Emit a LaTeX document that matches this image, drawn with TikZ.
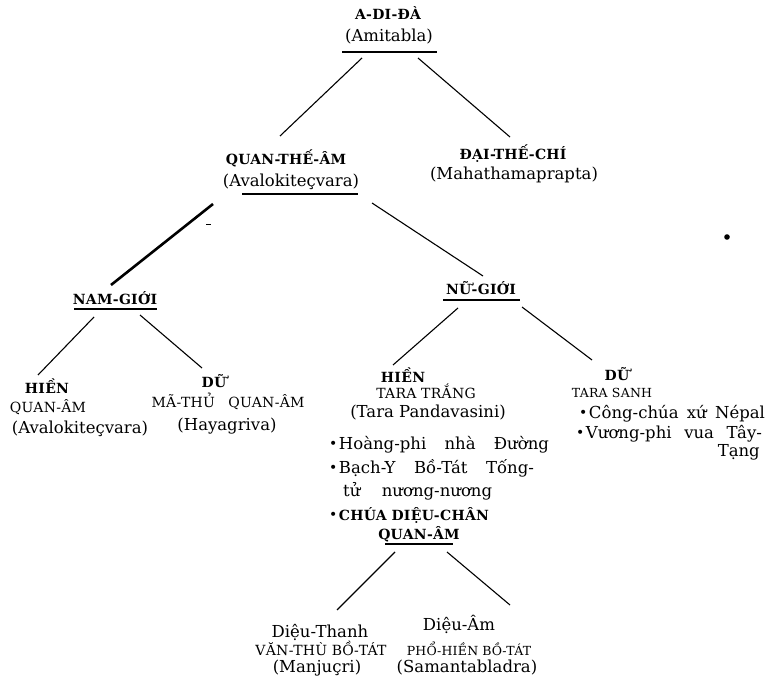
\documentclass[tikz,border=0pt]{standalone}
\usepackage{fontspec}
\setmainfont{DejaVu Serif}
\newfontfamily\capfam{DejaVu Serif}[LetterSpace=2]
\usetikzlibrary{calc}
\newcommand\mybul{\raisebox{0.5pt}{\fontsize{14}{14}\selectfont •}\hspace{1.5pt}}
\newcommand\capsb{\fontsize{14}{16}\selectfont\capfam\bfseries}
\begin{document}
\begin{tikzpicture}[x=1pt,y=-1pt,
  mt/.style={inner sep=0pt, anchor=base, font=\fontsize{16.5}{20}\selectfont},
  cb/.style={inner sep=0pt, anchor=base, font=\fontsize{14}{16}\selectfont\capfam\bfseries},
  cr/.style={inner sep=0pt, anchor=base, font=\fontsize{14}{16}\selectfont\capfam},
  bl/.style={inner sep=0pt, anchor=base west, font=\fontsize{16.5}{20}\selectfont},
  conn/.style={line width=1.1pt},
  thickconn/.style={line width=2.6pt},
  uline/.style={line width=1.4pt}]
\useasboundingbox (0,0) rectangle (768,684);

% --- root
\node[cb] (adida) at (388,20) {A-DI-ĐÀ};
\node[mt] (amit) at (389,41.5) {(Amitabla)};
\draw[uline] (342,52) -- (437,52);

% --- level 2
\node[cb] (qta) at (286,165) {QUAN-THẾ-ÂM};
\node[mt] (aval) at (291,186.5) {(Avalokiteçvara)};
\draw[uline] (242,194) -- (358,194);
\node[cb] (dtc) at (513,160) {ĐẠI-THẾ-CHÍ};
\node[mt] (maha) at (514,180) {(Mahathamaprapta)};

% --- level 3
\node[cb] (nam) at (115,305) {NAM-GIỚI};
\draw[uline] (74,309) -- (157,309);
\node[cb] (nu) at (481,295) {NỮ-GIỚI};
\draw[uline] (443,300) -- (520,300);

% --- left leaves
\node[cb] (hien1) at (47,393) {HIỀN};
\node[cr] (qa1) at (48,412) {QUAN-ÂM};
\node[mt] (aval2) at (80,433) {(Avalokiteçvara)};
\node[cb] (du1) at (214,387) {DỮ};
\node[cr] (mathu) at (228,407.5) {\makebox[153pt][s]{MÃ-THỦ QUAN-ÂM}};
\node[mt] (haya) at (227,430) {(Hayagriva)};

% --- centre leaf
\node[cb] (hien2) at (403,382) {HIỀN};
\node[cr] (tara) at (426,398) {TARA TRẮNG};
\node[mt] (tpand) at (428,417) {(Tara Pandavasini)};
\node[bl] (hoang) at (329,449) {\mybul\makebox[210pt][s]{Hoàng-phi nhà Đường}};
\node[bl] (bach) at (329,473) {\mybul\makebox[195pt][s]{Bạch-Y Bồ-Tát Tống-}};
\node[bl] (tu) at (343,496.5) {\makebox[149pt][s]{tử nương-nương}};
\node[bl] (chua) at (329,520) {\mybul{\capsb\makebox[150pt][s]{CHÚA DIỆU-CHÂN}}};
\node[cb] (qa3) at (419,539) {QUAN-ÂM};
\draw[uline] (385,544) -- (453,544);

% --- right leaf
\node[cb] (du2) at (617,380) {DỮ};
\node[cr, font=\fontsize{12.5}{15}\selectfont\capfam] (tsanh) at (612,397) {TARA SANH};
\node[bl] (cong) at (579,418) {\mybul\makebox[176pt][s]{Công-chúa xứ Népal}};
\node[bl] (vuong) at (576,438) {\mybul\makebox[176pt][s]{Vương-phi vua Tây-}};
\node[mt, anchor=base east] (tang) at (760,456) {Tạng};

% --- bottom leaves
\node[mt] (dthanh) at (320,637) {Diệu-Thanh};
\node[cr] (vanthu) at (321,655) {VĂN-THÙ BỒ-TÁT};
\node[mt] (manju) at (317,672) {(Manjuçri)};
\node[mt] (dam) at (459,630) {Diệu-Âm};
\node[cr, font=\fontsize{12.5}{15}\selectfont\capfam] (phohien) at (469,655) {PHỔ-HIỀN BỒ-TÁT};
\node[mt] (samanta) at (467,672) {(Samantabladra)};

% --- connector end points
\coordinate (amit-l) at (362,58);  \coordinate (qta-in) at (280,136);
\coordinate (amit-r) at (418,58);  \coordinate (dtc-in) at (510,137);
\coordinate (aval-l) at (213,204); \coordinate (nam-in) at (111,285);
\coordinate (aval-r) at (372,203); \coordinate (nu-in) at (483,276);
\coordinate (nam-l) at (94,317);   \coordinate (hien1-in) at (38,375);
\coordinate (nam-r) at (140,315);  \coordinate (du1-in) at (202,368);
\coordinate (nu-l) at (458,308);   \coordinate (hien2-in) at (393,365);
\coordinate (nu-r) at (522,307);   \coordinate (du2-in) at (592,360);
\coordinate (qa3-l) at (395,552);  \coordinate (dthanh-in) at (337,610);
\coordinate (qa3-r) at (447,552);  \coordinate (dam-in) at (510,605);

\draw[conn] (amit-l) -- (qta-in);
\draw[conn] (amit-r) -- (dtc-in);
\draw[thickconn] (aval-l) -- (nam-in);
\draw[conn] (aval-r) -- (nu-in);
\draw[conn] (nam-l) -- (hien1-in);
\draw[conn] (nam-r) -- (du1-in);
\draw[conn] (nu-l) -- (hien2-in);
\draw[conn] (nu-r) -- (du2-in);
\draw[conn] (qa3-l) -- (dthanh-in);
\draw[conn] (qa3-r) -- (dam-in);

% --- specks in the scan
\fill (727,237) circle (2.8);
\draw[line width=1pt] (206,225) -- (211,225);
\end{tikzpicture}
\end{document}
